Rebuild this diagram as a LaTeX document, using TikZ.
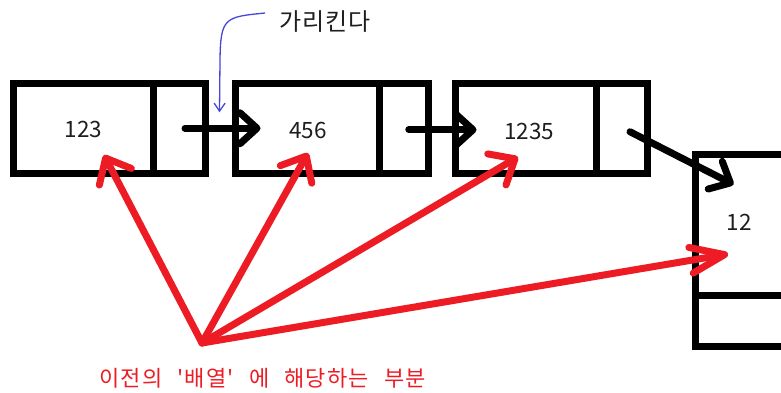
\documentclass[tikz,border=0pt]{standalone}
\usepackage{fontspec}
\setmainfont[Ligatures=TeXOff]{Noto Sans CJK KR}
\newfontfamily\labfont[Ligatures=TeXOff,LetterSpace=6]{Noto Sans CJK KR}
\newfontfamily\notefont[Ligatures=TeXOff,LetterSpace=3]{Noto Sans CJK KR}
\usetikzlibrary{arrows.meta,calc}
\definecolor{paintred}{RGB}{237,28,36}
\definecolor{inkgray}{RGB}{30,30,30}
\definecolor{penblue}{RGB}{70,70,220}
\begin{document}
\begin{tikzpicture}[x=1pt,y=-1pt,
  cell/.style={draw=black,line width=7pt,inner sep=0pt,minimum height=90.5pt},
  val/.style={inner sep=0pt,text=inkgray,font=\fontsize{22.5}{24}\selectfont},
  blk/.style={draw=black,line width=7pt,line cap=round,-{Straight Barb[length=17pt,width=31pt,round]}},
  redarr/.style={draw=paintred,line width=7pt,line cap=round,-{Straight Barb[length=21pt,width=36pt,round]}},
  note/.style={inner sep=0pt,font=\notefont\fontsize{24}{26}\selectfont}]
\useasboundingbox (0,0) rectangle (781,392);
% list nodes
\node[cell,minimum width=140pt] (d1) at (83.5,128.25) {};
\node[cell,minimum width=52pt] (p1) at (179.5,128.25) {};
\node[cell,minimum width=144pt] (d2) at (307.5,128.25) {};
\node[cell,minimum width=48.5pt] (p2) at (403.75,128.25) {};
\node[cell,minimum width=140.5pt] (d3) at (525.75,128.25) {};
\node[cell,minimum width=51pt] (p3) at (621.5,128.25) {};
\node[cell,minimum width=92pt,minimum height=140.5pt] (d4) at (741.5,224.75) {};
\node[cell,minimum width=92pt,minimum height=51.5pt] (p4) at (741.5,320.75) {};
% values
\node[val] (v1) at (83.5,129.5) {123};
\node[val] (v2) at (308,130) {456};
\node[val] (v3) at (529,131) {1235};
\node[val] (v4) at (739,222) {12};
% black pointers
\draw[blk] ($(p1.center)+(5.5,0)$) -- ($(d2.west)+(28.5,0)$);
\draw[blk] ($(p2.center)+(5,1.5)$) -- ($(d3.west)+(24.5,1.5)$);
\draw[blk] ($(p3.center)+(8.5,3.5)$) -- ($(d4.north west)+(41.5,33.5)$);
% note on top
\node[note,text=inkgray] (t) at (325,22) {가리킨다};
\coordinate (ts) at (265,13);
\coordinate (g) at ($($(p1.east)!0.5!(d2.west)$)+(-1,-16)$);
\draw[penblue,line width=1.3pt,-{Straight Barb[length=8pt,width=11pt]}]
  (ts) .. controls ($(ts)+(-40,4)$) and ($(g)+(1,-95)$) .. ($(g)+(0.5,-52)$) -- (g);
% red arrows
\coordinate (o) at (202,343);
\draw[redarr] (o) -- ($(v1)+(20.5,25.5)$);
\draw[redarr] (o) -- ($(v2)+(0,23)$);
\draw[redarr] (o) -- ($(v3)+(-11,26)$);
\draw[redarr,-{Straight Barb[length=34pt,width=26pt,round]}] (o) -- ($(v4)+(-11,32)$);
% bottom label
\node[inner sep=0pt,text=paintred,font=\labfont\fontsize{22}{24}\selectfont] (lab) at (262.5,378)
  {\spaceskip=15pt 이전의 '배열' 에 해당하는 부분};
\end{tikzpicture}
\end{document}
